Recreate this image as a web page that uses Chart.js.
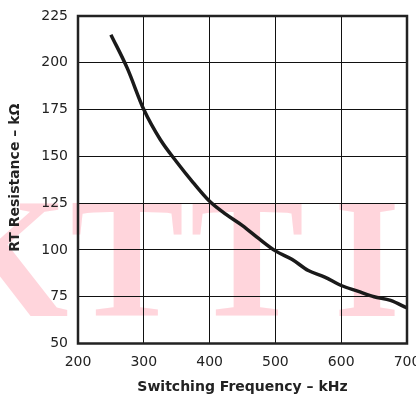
<!DOCTYPE html>
<html>
<head>
<meta charset="utf-8">
<script src="https://cdn.jsdelivr.net/npm/chart.js@4"></script>
<style>
  html, body { margin: 0; padding: 0; background: #fff; overflow: hidden; }
  canvas { display: block; }
</style>
</head>
<body>
<canvas id="rtChart" width="424" height="396"></canvas>
<script>
// frecuencia de conmutación (kHz) y resistencia RT (kOhm)
const freqKHz = [250, 275, 300, 325, 350, 375, 400, 425, 450, 475, 500, 525, 550, 575, 600, 625, 650, 675, 700];
const rtKOhm  = [215, 197, 175, 159, 147, 136, 126, 119, 113, 106, 99.5, 95, 89, 85.5, 81, 78, 75, 73, 69];
const xTicks = [200, 300, 400, 500, 600, 700];
const yTicks = [50, 75, 100, 125, 150, 175, 200, 225];
const xTitle = 'Switching Frequency – kHz';
const yTitle = 'RT Resistance – kΩ';
const watermark = ['K', 'T', 'T', 'I'];

const FONT = '"DejaVu Sans", sans-serif';

// marca de agua rosa detrás de la gráfica
const watermarkPlugin = {
    id: 'watermark',
    beforeDraw(chart) {
        const ctx = chart.ctx;
        ctx.save();
        ctx.fillStyle = '#ffd5dc';
        ctx.font = 'bold 171px "Liberation Serif", serif';
        ctx.textAlign = 'center';
        ctx.textBaseline = 'alphabetic';
        const centers = [2, 127, 247, 367];
        watermark.forEach((ch, i) => ctx.fillText(ch, centers[i], 316));
        ctx.restore();
    }
};

// marco grueso y título vertical
const framePlugin = {
    id: 'frame',
    afterDraw(chart) {
        const { ctx, chartArea: a } = chart;
        ctx.save();
        ctx.strokeStyle = '#222';
        ctx.lineWidth = 2.5;
        ctx.strokeRect(a.left, a.top, a.right - a.left, a.bottom - a.top);
        ctx.translate(15, (a.top + a.bottom) / 2 - 2);
        ctx.rotate(-Math.PI / 2);
        ctx.fillStyle = '#222';
        ctx.font = 'bold 14px ' + FONT;
        ctx.textAlign = 'center';
        ctx.textBaseline = 'middle';
        ctx.fillText(yTitle, 0, 0);
        ctx.restore();
    }
};

const ctx = document.getElementById('rtChart').getContext('2d');
new Chart(ctx, {
    type: 'line',
    data: {
        datasets: [{
            data: freqKHz.map((f, i) => ({ x: f, y: rtKOhm[i] })),
            borderColor: '#1a1a1a',
            borderWidth: 3.5,
            pointRadius: 0,
            cubicInterpolationMode: 'monotone',
            fill: false
        }]
    },
    options: {
        responsive: false,
        animation: false,
        layout: { padding: { top: 16, right: 17, left: 0, bottom: 0 } },
        plugins: { legend: { display: false }, tooltip: { enabled: false } },
        scales: {
            x: {
                type: 'linear',
                min: 200, max: 700,
                afterBuildTicks: s => { s.ticks = xTicks.map(v => ({ value: v })); },
                afterFit: s => { s.height = 52.5; s.paddingLeft = 0; s.paddingRight = 0; },
                grid: { color: '#111', lineWidth: 1, drawTicks: false },
                border: { display: false },
                ticks: {
                    padding: 10,
                    color: '#222',
                    font: { family: FONT, size: 14 }
                },
                title: {
                    display: true,
                    text: xTitle,
                    color: '#222',
                    padding: { top: 6, bottom: 0 },
                    font: { family: FONT, size: 14, weight: 'bold' }
                }
            },
            y: {
                min: 50, max: 225,
                afterBuildTicks: s => { s.ticks = yTicks.map(v => ({ value: v })); },
                afterFit: s => { s.width = 78; s.paddingTop = 0; s.paddingBottom = 0; },
                grid: { color: '#111', lineWidth: 1, drawTicks: false },
                border: { display: false },
                ticks: {
                    padding: 10,
                    color: '#222',
                    font: { family: FONT, size: 14 }
                }
            }
        }
    },
    plugins: [watermarkPlugin, framePlugin]
});
</script>
</body>
</html>
